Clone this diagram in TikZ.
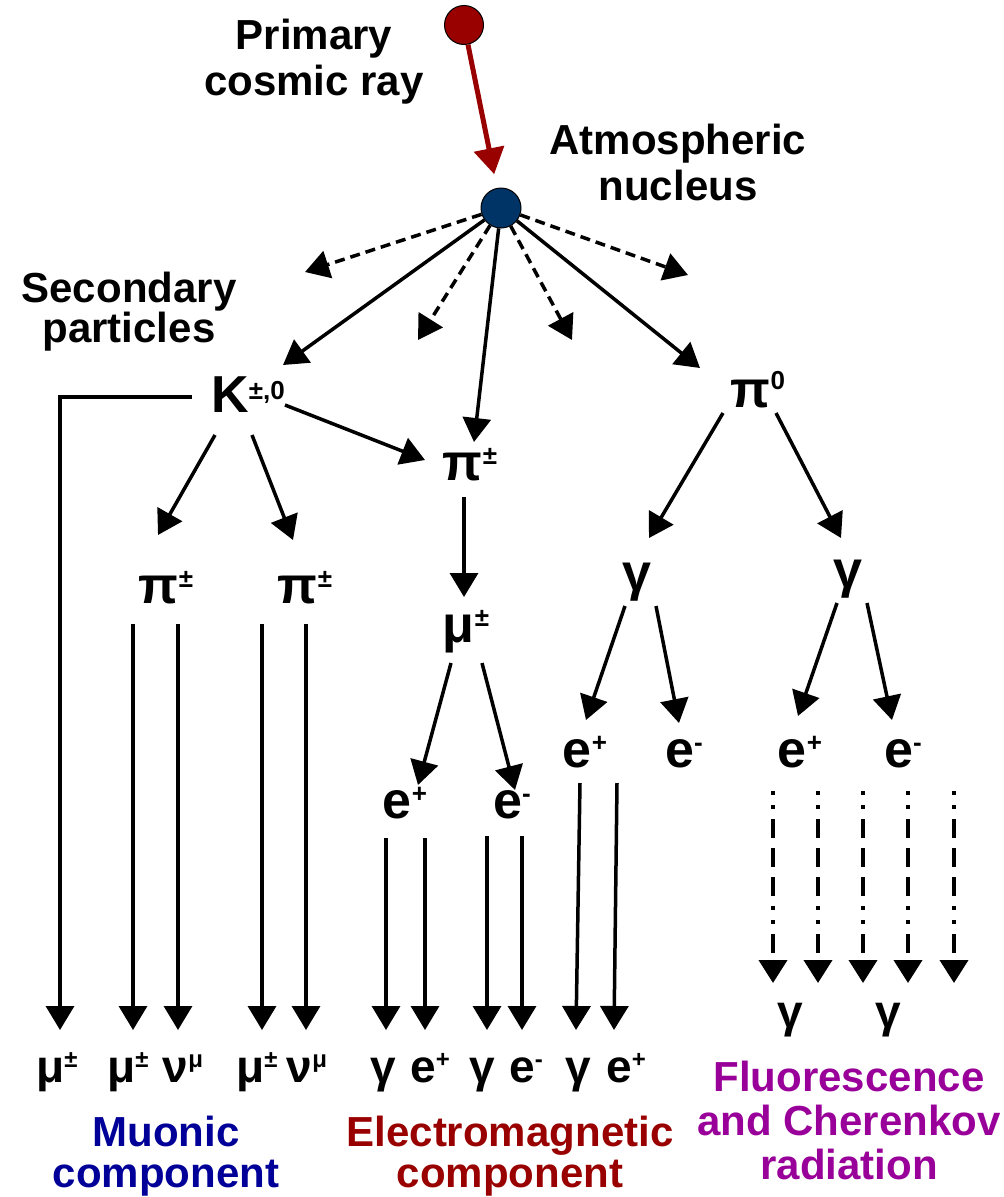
\documentclass[tikz,border=0pt]{standalone}
\usepackage{fontspec}
\setmainfont{Liberation Sans}
\usetikzlibrary{arrows.meta}
\definecolor{cred}{HTML}{990000}
\definecolor{cblue}{HTML}{003366}
\definecolor{cmuon}{HTML}{000099}
\definecolor{cpurp}{HTML}{990099}
\newcommand\sps[2][16pt]{\raisebox{#1}{\fontsize{26}{26}\selectfont #2}}
\newcommand\spf[1]{\raisebox{15pt}{\fontsize{24}{24}\selectfont #1}}
\begin{document}
\begin{tikzpicture}[x=1pt,y=-1pt,
  lab/.style={font=\fontsize{42}{46}\selectfont\bfseries, align=center, anchor=north, inner sep=0pt},
  part/.style={font=\fontsize{52}{54}\selectfont\bfseries, anchor=base, inner sep=0pt},
  fin/.style={font=\fontsize{46}{48}\selectfont\bfseries, anchor=base, inner sep=0pt},
  arr/.style={line width=3.5pt, -{Triangle[length=24pt,width=28pt]}},
  darr/.style={line width=3.5pt, dash pattern=on 10pt off 6pt, -{Triangle[length=24pt,width=28pt]}},
  ddarr/.style={line width=4pt, dash pattern=on 4pt off 10pt on 4pt off 10pt on 19pt off 10pt on 19pt off 10pt on 19pt off 10pt, -{Triangle[length=23pt,width=28pt]}},
  ball/.style={circle, draw=black, line width=1pt, inner sep=0pt}
]
\useasboundingbox (0,0) rectangle (1004,1197);

% circles
\node[ball, fill=cred, minimum size=39pt] (prim) at (464,25) {};
\node[ball, fill=cblue, minimum size=40pt] (nuc) at (501,208) {};

% labels
\node[lab] (lprim) at (314,19) {Primary\\cosmic ray};
\node[lab] (latm) at (678,124) {Atmospheric\\nucleus};
\node[lab, font=\fontsize{42}{40}\selectfont\bfseries] (lsec) at (129,272) {Secondary\\particles};
\node[lab, text=cmuon, font=\fontsize{42}{41}\selectfont\bfseries] (lmu) at (166,1116) {Muonic\\component};
\node[lab, text=cred, font=\fontsize{42}{41}\selectfont\bfseries] (lem) at (510,1116) {Electromagnetic\\component};
\node[lab, text=cpurp, font=\fontsize{42}{44}\selectfont\bfseries] (lfl) at (849,1061) {Fluorescence\\and Cherenkov\\radiation};

% particles
\node[part] (K) at (248,412) {K\sps[13pt]{±,0}};
\node[part] (pim) at (470,480) {π\sps{±}};
\node[part] (pi0) at (758,407) {π\sps[18pt]{0}};
\node[part] (pil) at (166,603) {π\sps{±}};
\node[part] (pir) at (305,603) {π\sps{±}};
\node[part] (mum) at (466,642) {μ\sps{±}};
\node[part] (gl) at (637,590) {γ};
\node[part] (gr) at (848,587) {γ};
\node[part] (ep1) at (585,767) {e\sps{+}};
\node[part] (em1) at (684,767) {e\sps{-}};
\node[part] (ep2) at (800,767) {e\sps{+}};
\node[part] (em2) at (903,767) {e\sps{-}};
\node[part] (ep3) at (405,818) {e\sps{+}};
\node[part] (em3) at (512,818) {e\sps{-}};
\node[fin] (gf1) at (790,1027) {γ};
\node[fin] (gf2) at (888,1027) {γ};

% bottom row
\node[fin] (b1) at (57,1082) {μ\spf{±}};
\node[fin] (b2) at (128,1082) {μ\spf{±}};
\node[fin] (b3) at (183,1082) {ν\spf{μ}};
\node[fin] (b4) at (257,1082) {μ\spf{±}};
\node[fin] (b5) at (307,1082) {ν\spf{μ}};
\node[fin] (b6) at (383,1082) {γ};
\node[fin] (b7) at (430,1082) {e\spf{+}};
\node[fin] (b8) at (482,1082) {γ};
\node[fin] (b9) at (526,1082) {e\spf{-}};
\node[fin] (b10) at (578,1082) {γ};
\node[fin] (b11) at (626,1082) {e\spf{+}};

% free ends
\coordinate (d1) at (305,272);
\coordinate (d2) at (418,340);
\coordinate (d3) at (572,340);
\coordinate (d4) at (688,275);

% primary
\draw[line width=5pt, cred, -{Triangle[length=26pt,width=30pt]}, shorten >=14pt] (prim) -- (nuc);

% from nucleus
\draw[darr] (nuc) -- (d1);
\draw[darr] (nuc) -- (d2);
\draw[darr] (nuc) -- (d3);
\draw[darr] (nuc) -- (d4);
\draw[arr] (nuc) -- ([shift={(35,-47)}]K.base);
\draw[arr] (nuc) -- ([shift={(4,-38)}]pim.base);
\draw[arr] (nuc) -- ([shift={(-58,-39)}]pi0.base);

% kaon
\draw[arr] ([shift={(-56,-15)}]K.base) -| ([shift={(3,-52)}]b1.base);
\draw[arr] ([shift={(37,-7)}]K.base) -- ([shift={(-45,-20)}]pim.base);
\draw[arr] ([shift={(-33,23)}]K.base) -- ([shift={(-8,-68)}]pil.base);
\draw[arr] ([shift={(4,23)}]K.base) -- ([shift={(-12,-63)}]pir.base);

% charged pion -> muon
\draw[arr] ([shift={(-6,17)}]pim.base) -- ([shift={(-2,-45)}]mum.base);
\draw[arr] ([shift={(-15,21)}]mum.base) -- ([shift={(13,-33)}]ep3.base);
\draw[arr] ([shift={(16,21)}]mum.base) -- ([shift={(3,-28)}]em3.base);

% neutral pion
\draw[arr] ([shift={(-35,6)}]pi0.base) -- ([shift={(12,-52)}]gl.base);
\draw[arr] ([shift={(18,6)}]pi0.base) -- ([shift={(-7,-49)}]gr.base);
\draw[arr] ([shift={(-12,16)}]gl.base) -- ([shift={(1,-47)}]ep1.base);
\draw[arr] ([shift={(19,16)}]gl.base) -- ([shift={(-5,-44)}]em1.base);
\draw[arr] ([shift={(-11,16)}]gr.base) -- ([shift={(-2,-51)}]ep2.base);
\draw[arr] ([shift={(19,16)}]gr.base) -- ([shift={(-11,-47)}]em2.base);

% vertical lines to the ground
\draw[arr] ([shift={(-33,21)}]pil.base) -- ([shift={(5,-52)}]b2.base);
\draw[arr] ([shift={(12,21)}]pil.base) -- ([shift={(-5,-52)}]b3.base);
\draw[arr] ([shift={(-43,21)}]pir.base) -- ([shift={(5,-52)}]b4.base);
\draw[arr] ([shift={(1,21)}]pir.base) -- ([shift={(-1,-52)}]b5.base);
\draw[arr] ([shift={(-19,20)}]ep3.base) -- ([shift={(3,-52)}]b6.base);
\draw[arr] ([shift={(20,20)}]ep3.base) -- ([shift={(-5,-52)}]b7.base);
\draw[arr] ([shift={(-25,18)}]em3.base) -- ([shift={(5,-52)}]b8.base);
\draw[arr] ([shift={(10,18)}]em3.base) -- ([shift={(-4,-52)}]b9.base);
\draw[arr] ([shift={(-5,16)}]ep1.base) -- ([shift={(-2,-52)}]b10.base);
\draw[arr] ([shift={(32,16)}]ep1.base) -- ([shift={(-12,-52)}]b11.base);

% dash-dot lines
\draw[ddarr] ([shift={(-27,24)}]ep2.base) -- ([shift={(-17,-44)}]gf1.base);
\draw[ddarr] ([shift={(18,24)}]ep2.base) -- ([shift={(28,-44)}]gf1.base);
\draw[ddarr] ([shift={(-40,24)}]em2.base) -- ([shift={(-25,-44)}]gf2.base);
\draw[ddarr] ([shift={(5,24)}]em2.base) -- ([shift={(20,-44)}]gf2.base);
\draw[ddarr] ([shift={(51,24)}]em2.base) -- ([shift={(66,-44)}]gf2.base);
\end{tikzpicture}
\end{document}
